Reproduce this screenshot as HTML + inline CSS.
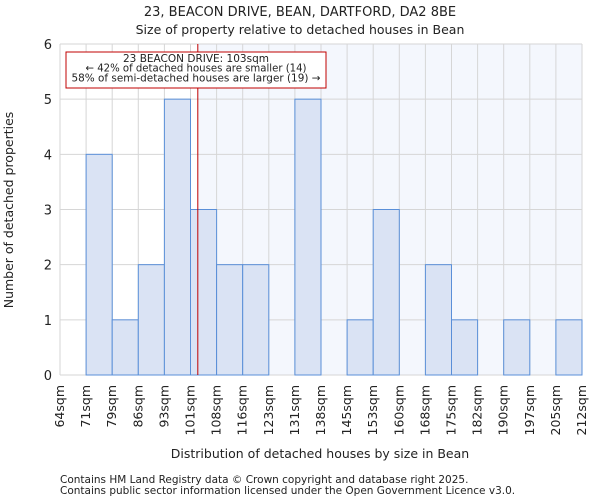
<!DOCTYPE html>
<html><head><meta charset="utf-8"><style>
body{margin:0;background:#fff;font-family:"DejaVu Sans","Liberation Sans",sans-serif}
svg text{font-family:"DejaVu Sans","Liberation Sans",sans-serif;fill:#222}
</style></head><body>
<svg id="c" width="600" height="500" xmlns="http://www.w3.org/2000/svg">
<text x="300" y="16" font-size="13" text-anchor="middle">23, BEACON DRIVE, BEAN, DARTFORD, DA2 8BE</text>
<text x="300" y="34" font-size="12.5" text-anchor="middle">Size of property relative to detached houses in Bean</text>
<g id="plot"></g>
<text x="320" y="458" font-size="12.5" text-anchor="middle">Distribution of detached houses by size in Bean</text>
<text transform="translate(13,210) rotate(-90)" font-size="12.5" text-anchor="middle">Number of detached properties</text>
<text x="60" y="483" font-size="10.5" fill="#444">Contains HM Land Registry data © Crown copyright and database right 2025.</text>
<text x="60" y="494" font-size="10.5" fill="#444">Contains public sector information licensed under the Open Government Licence v3.0.</text>
</svg>
<script>
const tickLabels=["64sqm","71sqm","79sqm","86sqm","93sqm","101sqm","108sqm","116sqm","123sqm","131sqm","138sqm","145sqm","153sqm","160sqm","168sqm","175sqm","182sqm","190sqm","197sqm","205sqm","212sqm"];
const counts=[0,4,1,2,5,3,2,2,0,5,0,1,3,0,2,1,0,1,0,1];
const yTicks=[0,1,2,3,4,5,6];
const markerBin=5.28;
const NS="http://www.w3.org/2000/svg";
const L=60,R=582,T=44,B=375,yMax=6;
const bw=(R-L)/counts.length;
const x=i=>L+i*bw;
const y=v=>B-(v/yMax)*(B-T);
const g=document.getElementById('plot');
function mk(t,a,p){const e=document.createElementNS(NS,t);for(const k in a)e.setAttribute(k,a[k]);(p||g).appendChild(e);return e;}
const mx=x(markerBin);
let bg=mk('rect',{x:mx,y:T,width:R-mx,height:B-T,fill:'#f4f7fd'});


for(let i=0;i<=counts.length;i++){const l=mk('line',{x1:x(i),x2:x(i),y1:T,y2:B,stroke:'#d6d6d6','stroke-width':1});

}
yTicks.forEach(v=>{const l=mk('line',{x1:L,x2:R,y1:y(v),y2:y(v),stroke:'#d6d6d6','stroke-width':1});


const t=mk('text',{x:L-8,y:y(v)+5,'font-size':13,'text-anchor':'end'});t.textContent=v;

});
counts.forEach((c,i)=>{if(!c)return;const r=mk('rect',{x:x(i),y:y(c),width:bw,height:B-y(c),fill:'#dae3f4',stroke:'#5a8fd8','stroke-width':1});

});
tickLabels.forEach((s,i)=>{const t=mk('text',{transform:`translate(${x(i)+4},${B+10}) rotate(-90)`,'font-size':12.5,'text-anchor':'end'});t.textContent=s;

});
const ml=mk('line',{x1:mx,x2:mx,y1:T,y2:B,stroke:'#c00000','stroke-width':1});


const box=mk('rect',{x:66,y:52,width:260,height:36,fill:'#fff',stroke:'#c00000','stroke-width':1});


const annLens=[146,221,249];
["23 BEACON DRIVE: 103sqm","← 42% of detached houses are smaller (14)","58% of semi-detached houses are larger (19) →"].forEach((s,i)=>{const t=mk('text',{x:196,y:62+i*9.7,'font-size':10.5,'text-anchor':'middle',textLength:annLens[i],lengthAdjust:'spacingAndGlyphs'});t.textContent=s;

});
</script>
</body></html>
